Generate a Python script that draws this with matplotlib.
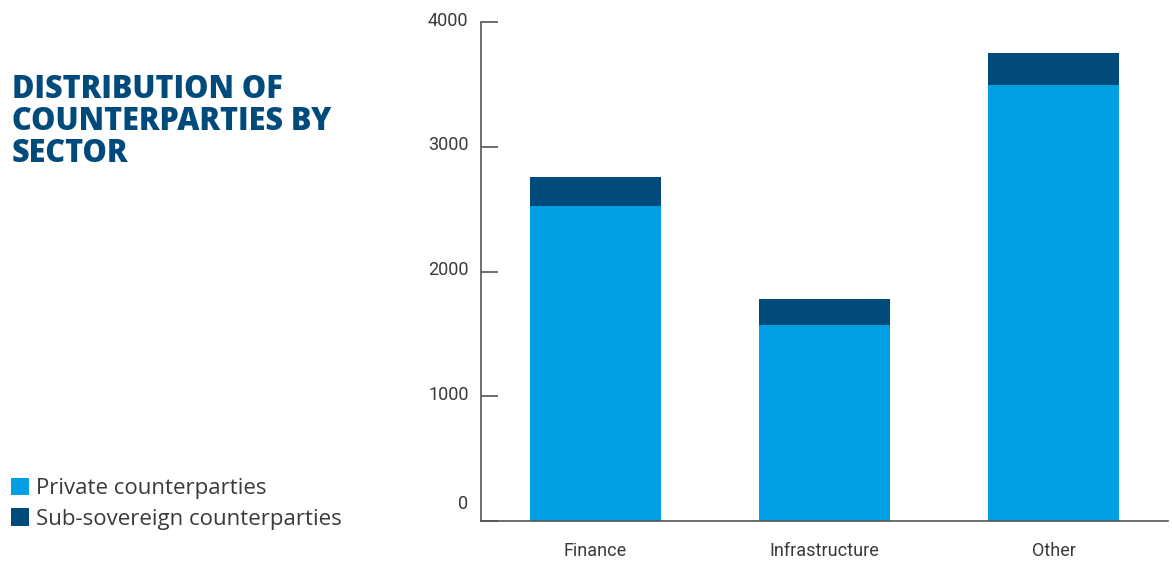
import matplotlib
matplotlib.use('Agg')
import matplotlib.pyplot as plt
import matplotlib.transforms as mtransforms
import numpy as np

sectors = ['Finance', 'Infrastructure', 'Other']
private = [2527, 1571, 3497]
sub_sovereign = [233, 209, 255]
yticks = [0, 1000, 2000, 3000, 4000]

light_blue = '#009fe3'
dark_blue = '#004b7c'
text_grey = '#3a3a3a'
axis_grey = '#555555'
tick_font = ['Roboto', 'DejaVu Sans']

fig = plt.figure(figsize=(11.72, 5.65), dpi=100)
ax = fig.add_axes([481/1172, 44/565, 687/1172, 499/565])

x = np.arange(len(sectors))
b1 = ax.bar(x, private, width=0.572, color=light_blue, label='Private counterparties')
b2 = ax.bar(x, sub_sovereign, width=0.572, bottom=private, color=dark_blue,
	label='Sub-sovereign counterparties')

ax.set_xlim(-0.5, 2.5)
ax.set_ylim(0, 4000)
ax.set_xticks(x)
ax.set_xticklabels(sectors, family=tick_font, fontsize=13, color=text_grey)
ax.set_yticks(yticks)
ax.set_yticklabels([str(v) for v in yticks], family=tick_font,
	fontsize=13, color=text_grey)

for s in ['top', 'right']:
	ax.spines[s].set_visible(False)
for s in ['left', 'bottom']:
	ax.spines[s].set_color(axis_grey)
	ax.spines[s].set_linewidth(1.2)

ax.tick_params(axis='y', direction='in', length=12.2, width=1.2, color=axis_grey, pad=9)
ax.tick_params(axis='x', length=0, pad=15)

# labels sit a little above their tick, the zero one well above the baseline
for lab, v in zip(ax.get_yticklabels(), yticks):
	up = 14 if v == 0 else 2.5
	offset = mtransforms.ScaledTranslation(0, up/72, fig.dpi_scale_trans)
	lab.set_transform(lab.get_transform() + offset)

fig.text(12/1172, 1 - 74/565, 'DISTRIBUTION OF\nCOUNTERPARTIES BY\nSECTOR',
	family='Open Sans', fontweight='heavy', fontsize=22, color=dark_blue,
	va='top', ha='left', linespacing=1.0)

fig.legend(handles=[b1, b2], loc='lower left', bbox_to_anchor=(0.009, 0.062),
	frameon=False, prop={'family': 'Open Sans', 'size': 16},
	handlelength=0.85, handleheight=0.85, handletextpad=0.3, labelspacing=0.42,
	borderpad=0, borderaxespad=0, labelcolor=text_grey)

fig.savefig('out.png', dpi=100)
